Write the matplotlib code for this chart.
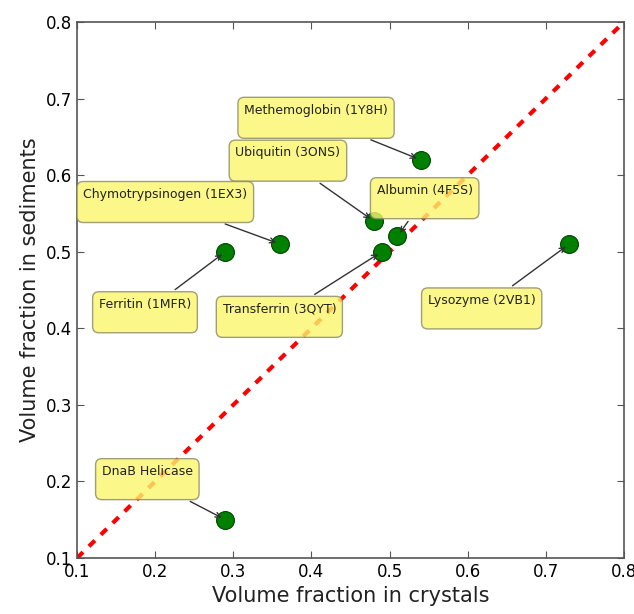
import matplotlib
matplotlib.use('Agg')
import matplotlib.pyplot as plt

# protein volume fractions: crystals vs sediments
names = ['Methemoglobin (1Y8H)', 'Ubiquitin (3ONS)', 'Albumin (4F5S)', 'Transferrin (3QYT)',
         'Chymotrypsinogen (1EX3)', 'Ferritin (1MFR)', 'Lysozyme (2VB1)', 'DnaB Helicase']
crystal = [0.54, 0.48, 0.51, 0.49, 0.36, 0.29, 0.73, 0.29]
sediment = [0.62, 0.54, 0.52, 0.50, 0.51, 0.50, 0.51, 0.15]

# where each label box sits (data coords)
label_x = [0.406, 0.370, 0.545, 0.359, 0.213, 0.187, 0.618, 0.190]
label_y = [0.675, 0.619, 0.570, 0.415, 0.565, 0.421, 0.426, 0.203]

ticks = [0.1, 0.2, 0.3, 0.4, 0.5, 0.6, 0.7, 0.8]

fig = plt.figure(figsize=(6.34, 6.14), dpi=100)
ax = fig.add_axes([0.1215, 0.0912, 0.8625, 0.8728])

ax.plot([0.1, 0.8], [0.1, 0.8], '--', color='red', lw=3, dashes=(2, 2), zorder=1)
ax.scatter(crystal, sediment, s=165, color='green', edgecolor='#004400', lw=0.8, zorder=3)

for n, cx, sy, lx, ly in zip(names, crystal, sediment, label_x, label_y):
    ax.annotate(n + '\n', xy=(cx, sy), xytext=(lx, ly), fontsize=9, color='#222222',
                ha='center', va='center', linespacing=1.25,
                bbox=dict(boxstyle='round,pad=0.5', fc='#fbf66a', ec='#888866', alpha=0.8),
                arrowprops=dict(arrowstyle='->', color='#333333', lw=1, shrinkB=3),
                zorder=4)

ax.set_xlim(0.1, 0.8)
ax.set_ylim(0.1, 0.8)
ax.set_xticks(ticks)
ax.set_yticks(ticks)
ax.tick_params(direction='in', top=True, right=True, labelsize=12, length=5, color='#555555')
for s in ax.spines.values():
    s.set_color('#555555')
    s.set_linewidth(1.2)

ax.set_xlabel('Volume fraction in crystals', fontsize=15, color='#222222')
ax.set_ylabel('Volume fraction in sediments', fontsize=15, color='#222222')

plt.savefig('out.png', dpi=100)
